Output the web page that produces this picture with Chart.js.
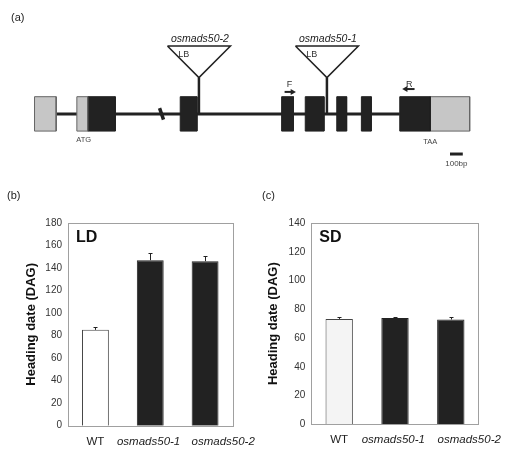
<!DOCTYPE html>
<html>
<head>
<meta charset="utf-8">
<title>OsMADS50 heading date</title>
<script src="https://cdn.jsdelivr.net/npm/chart.js@4.4.1/dist/chart.umd.min.js"></script>
<style>
body { margin: 0; background: #fff; width: 517px; height: 451px; position: relative; overflow: hidden;
       font-family: "Liberation Sans", Arial, sans-serif; }
canvas { position: absolute; }
#geneModel { left: 0; top: 0; }
#graphLD { left: 0; top: 180px; }
#graphSD { left: 257px; top: 180px; }
.panel { position: absolute; font-size: 11px; line-height: 11px; color: #222; }
</style>
</head>
<body>
<canvas id="geneModel" width="517" height="180"></canvas>
<canvas id="graphLD" width="258" height="271"></canvas>
<canvas id="graphSD" width="260" height="271"></canvas>
<span class="panel" style="left:11px;top:12px">(a)</span>
<span class="panel" style="left:7px;top:190px">(b)</span>
<span class="panel" style="left:262px;top:190px">(c)</span>
<script>
// gene model (a), positions along the drawn gene (diagram units)
var exonStart = [31, 74, 85, 179, 282, 306, 338, 363, 402, 433];
var exonEnd   = [53, 85, 113, 196, 294, 325, 348, 373, 433, 473];
var exonKind  = ['UTR', 'UTR', 'CDS', 'CDS', 'CDS', 'CDS', 'CDS', 'CDS', 'CDS', 'UTR'];
var intronFrom = 53, intronTo = 402;
var breakAt = 160;
var insertSite = [198, 328];
var insertName = ['osmads50-2', 'osmads50-1'];
var primerName = ['F', 'R'];
var primerFrom = [285, 417];
var primerTo   = [295, 406];
var codonName = ['ATG', 'TAA'];
var codonAt   = [81, 433];
var scaleBar  = [453, 466];
var scaleLabel = '100bp';

// heading date (b) LD and (c) SD
var genotypes = ['WT', 'osmads50-1', 'osmads50-2'];
var ldMeans  = [85.1, 147.0, 146.1];
var ldErrors = [2.4, 6.3, 5.0];
var sdMeans  = [73.3, 74.0, 72.9];
var sdErrors = [1.4, 0.8, 2.0];
var ldMax = 180, sdMax = 140, tickStep = 20;

var FONT = '"Liberation Sans", Arial, sans-serif';
Chart.defaults.font.family = FONT;

// ---- panel (a) ----
var midY = 115, exonTop = 97, exonBottom = 133;
var triTop = 44, triApex = 77, triHalf = 32;
var primerY = [92, 89];

var geneSets = [];
exonStart.forEach(function (s, i) {
  var e = exonEnd[i];
  var utr = exonKind[i] === 'UTR';
  geneSets.push({
    data: [{x: s, y: exonTop}, {x: e, y: exonTop}, {x: e, y: exonBottom}, {x: s, y: exonBottom}, {x: s, y: exonTop}],
    fill: 'shape',
    backgroundColor: utr ? '#c6c6c6' : '#222',
    borderColor: utr ? '#666' : '#222',
    borderWidth: 1,
    order: 1
  });
});
// intron backbone
geneSets.push({
  data: [{x: intronFrom, y: midY}, {x: intronTo, y: midY}],
  borderColor: '#222', borderWidth: 3, fill: false, order: 5
});
// break mark
geneSets.push({
  data: [{x: breakAt - 2, y: midY - 6}, {x: breakAt + 2, y: midY + 6}],
  borderColor: '#222', borderWidth: 3.5, fill: false, order: 2
});
// T-DNA insertions
insertSite.forEach(function (p) {
  geneSets.push({
    data: [{x: p - triHalf, y: triTop}, {x: p + triHalf, y: triTop}, {x: p, y: triApex}, {x: p - triHalf, y: triTop}],
    fill: 'shape', backgroundColor: '#fff', borderColor: '#222', borderWidth: 1.5, order: 0
  });
  geneSets.push({
    data: [{x: p, y: triApex}, {x: p, y: midY}],
    borderColor: '#222', borderWidth: 2.5, fill: false, order: 0
  });
});
// primers
primerName.forEach(function (n, i) {
  var dir = primerTo[i] > primerFrom[i] ? 1 : -1;
  geneSets.push({
    data: [{x: primerFrom[i], y: primerY[i]}, {x: primerTo[i] - dir * 2, y: primerY[i]}],
    borderColor: '#222', borderWidth: 2, fill: false, order: 0,
    pointRadius: [0, 3.5], pointStyle: 'triangle', pointRotation: dir > 0 ? 90 : -90,
    pointBackgroundColor: '#222', pointBorderWidth: 0
  });
});
// scale bar
geneSets.push({
  data: [{x: scaleBar[0], y: 157}, {x: scaleBar[1], y: 157}],
  borderColor: '#222', borderWidth: 3, fill: false, order: 0
});

var geneText = {
  id: 'geneText',
  afterDatasetsDraw: function (chart) {
    var ctx = chart.ctx, x = chart.scales.x, y = chart.scales.y;
    ctx.save();
    ctx.textAlign = 'center';
    ctx.textBaseline = 'alphabetic';
    ctx.fillStyle = '#222';
    ctx.font = 'italic 10.5px ' + FONT;
    insertSite.forEach(function (p, i) {
      ctx.fillText(insertName[i], x.getPixelForValue(p + 1), y.getPixelForValue(40));
    });
    ctx.font = '9px ' + FONT;
    ctx.fillStyle = '#333';
    ctx.textAlign = 'left';
    insertSite.forEach(function (p) {
      ctx.fillText('LB', x.getPixelForValue(p - 21), y.getPixelForValue(55));
    });
    ctx.textAlign = 'center';
    primerName.forEach(function (n, i) {
      ctx.fillText(n, x.getPixelForValue((primerFrom[i] + primerTo[i]) / 2), y.getPixelForValue(86.5));
    });
    ctx.font = '7.5px ' + FONT;
    ctx.fillStyle = '#444';
    codonName.forEach(function (n, i) {
      ctx.fillText(n, x.getPixelForValue(codonAt[i]), y.getPixelForValue(i === 0 ? 144 : 147));
    });
    ctx.font = '8px ' + FONT;
    ctx.fillText(scaleLabel, x.getPixelForValue((scaleBar[0] + scaleBar[1]) / 2), y.getPixelForValue(170));
    ctx.restore();
  }
};

new Chart(document.getElementById('geneModel').getContext('2d'), {
  type: 'line',
  data: { datasets: geneSets },
  options: {
    responsive: false,
    animation: false,
    layout: { padding: 0 },
    elements: { point: { radius: 0 }, line: { tension: 0 } },
    plugins: { legend: { display: false }, tooltip: { enabled: false } },
    scales: {
      x: { type: 'linear', display: false, min: 0, max: 517 },
      y: { type: 'linear', display: false, min: 0, max: 180, reverse: true }
    }
  },
  plugins: [geneText]
});

// ---- panels (b) and (c) ----
// where the genotype names sit under the bars (bar index units); the last name is set off to the right as in the figure
var labelAt = [0, 0.97, 2.33];

var plotFrame = {
  id: 'plotFrame',
  afterDraw: function (chart) {
    var a = chart.chartArea, ctx = chart.ctx;
    ctx.save();
    ctx.strokeStyle = '#a0a0a0';
    ctx.lineWidth = 1;
    ctx.strokeRect(Math.round(a.left) + 0.5, Math.round(a.top) + 0.5,
                   Math.round(a.right - a.left), Math.round(a.bottom - a.top));
    ctx.restore();
  }
};

var errorBars = {
  id: 'errorBars',
  afterDatasetsDraw: function (chart, args, opts) {
    var errs = opts.errors;
    var meta = chart.getDatasetMeta(0);
    var vals = chart.data.datasets[0].data;
    var ys = chart.scales.y, ctx = chart.ctx;
    ctx.save();
    ctx.strokeStyle = '#222';
    ctx.lineWidth = 1;
    meta.data.forEach(function (bar, i) {
      var bx = Math.round(bar.x) + 0.5;
      var top = Math.round(ys.getPixelForValue(vals[i] + errs[i])) + 0.5;
      ctx.beginPath();
      ctx.moveTo(bx, bar.y);
      ctx.lineTo(bx, top);
      ctx.moveTo(bx - 2, top);
      ctx.lineTo(bx + 2, top);
      ctx.stroke();
    });
    ctx.restore();
  }
};

var dayTag = {
  id: 'dayTag',
  afterDraw: function (chart, args, opts) {
    var a = chart.chartArea, ctx = chart.ctx;
    ctx.save();
    ctx.font = 'bold 16px ' + FONT;
    ctx.fillStyle = '#111';
    ctx.textAlign = 'left';
    ctx.textBaseline = 'alphabetic';
    ctx.fillText(opts.text, a.left + 8, a.top + 19);
    ctx.restore();
  }
};

function showGraph(id, means, errors, yMax, tag, wtFill, box) {
  var context = document.getElementById(id).getContext('2d');
  return new Chart(context, {
    type: 'bar',
    data: {
      labels: genotypes,
      datasets: [{
        data: means,
        backgroundColor: [wtFill, '#222', '#222'],
        borderColor: ['#444', '#222', '#222'],
        borderWidth: 1,
        categoryPercentage: 1,
        barPercentage: 0.49
      }]
    },
    options: {
      responsive: false,
      animation: false,
      layout: { padding: { left: 0, top: box.top, right: box.right, bottom: 0 } },
      plugins: {
        legend: { display: false },
        tooltip: { enabled: false },
        errorBars: { errors: errors },
        dayTag: { text: tag }
      },
      scales: {
        x: { type: 'category', display: false },
        xl: {
          type: 'linear', axis: 'x', position: 'bottom', offset: false,
          min: -0.5, max: genotypes.length - 0.5,
          grid: { display: false, drawTicks: false, offset: false },
          border: { display: false },
          afterBuildTicks: function (s) { s.ticks = labelAt.map(function (v) { return { value: v }; }); },
          ticks: {
            color: '#222', padding: 9, maxRotation: 0, minRotation: 0, autoSkip: false,
            callback: function (v, i) { return genotypes[i]; },
            font: function (c) { return { size: 11.5, style: c.index === 0 ? 'normal' : 'italic' }; }
          },
          afterFit: function (s) {
            s.height = box.xHeight;
            // names may run past the plot frame, as in the figure
            s.paddingLeft = 0;
            s.paddingRight = 0;
          }
        },
        y: {
          min: 0, max: yMax,
          grid: { display: false, drawTicks: false },
          border: { display: false },
          ticks: { stepSize: tickStep, padding: 6, color: '#333', font: { size: 10 } },
          title: {
            display: true, text: 'Heading date (DAG)', color: '#111',
            font: { size: 13, weight: 'bold' }, padding: { top: box.titlePad, bottom: 0 }
          },
          afterFit: function (s) { s.width = box.yWidth; }
        }
      }
    },
    plugins: [plotFrame, errorBars, dayTag]
  });
}

showGraph('graphLD', ldMeans, ldErrors, ldMax, 'LD', '#ffffff',
  { top: 43, right: 25.5, xHeight: 25.3, yWidth: 68, titlePad: 24 });
showGraph('graphSD', sdMeans, sdErrors, sdMax, 'SD', '#f4f4f4',
  { top: 43, right: 38.3, xHeight: 26.7, yWidth: 54.3, titlePad: 8.7 });
</script>
</body>
</html>
